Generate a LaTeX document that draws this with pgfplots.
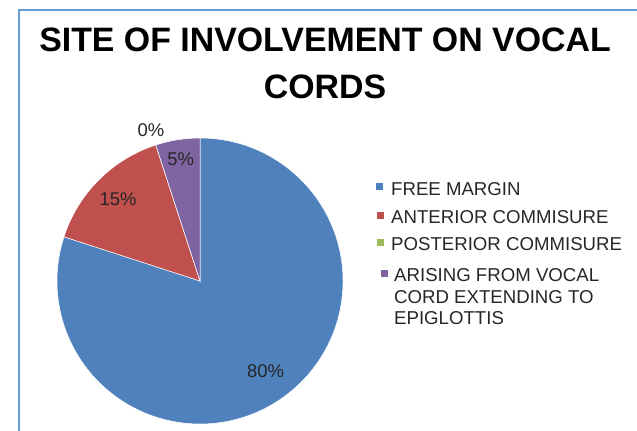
\documentclass[border=0pt]{standalone}
\usepackage{pgfplots}
\usepackage{pgfplotstable}
\pgfplotsset{compat=1.18}
\usepackage{fontspec}
\setmainfont{Liberation Sans}

\definecolor{pieblue}{RGB}{79,129,189}
\definecolor{piered}{RGB}{192,80,77}
\definecolor{piegreen}{RGB}{155,187,89}
\definecolor{piepurple}{RGB}{128,100,162}
\definecolor{frameblue}{RGB}{98,157,216}
\definecolor{legtext}{RGB}{38,38,38}

% slice share in percent, colour, radius of the label (fraction of R)
\pgfplotstableread{
name       value colour    labr
FreeMargin 80    pieblue   0.78
Anterior   15    piered    0.81
Posterior  0     piegreen  1.11
Arising    5     piepurple 0.86
}\piedata

\begin{document}
\begin{tikzpicture}[x=1bp,y=1bp]
\tikzset{pielabel/.style={font=\fontsize{18.5}{20}\selectfont, text=black!85, inner sep=0pt}}

% chart frame (cut by the page on the right and at the bottom)
\draw[frameblue, line width=2bp] (18.5,-5) -- (18.5,419.5) -- (660,419.5);

% title
\node[anchor=base, inner sep=0pt, font=\fontsize{34}{40}\selectfont\bfseries] at (325,379) {SITE OF INVOLVEMENT ON VOCAL};
\node[anchor=base, inner sep=0pt, font=\fontsize{34}{40}\selectfont\bfseries] at (325,332) {CORDS};

\begin{axis}[
    at={(200bp,149bp)}, anchor=center,
    x=143bp, y=143bp,
    xmin=-1, xmax=1, ymin=-1, ymax=1,
    hide axis, clip=false,
  ]
  \pgfplotstablegetrowsof{\piedata}
  \pgfmathtruncatemacro\lastrow{\pgfplotsretval-1}
  \def\angstart{90}
  \pgfplotsforeachungrouped \i in {0,...,\lastrow}{
    \pgfplotstablegetelem{\i}{value}\of\piedata \let\val\pgfplotsretval
    \pgfplotstablegetelem{\i}{colour}\of\piedata \let\col\pgfplotsretval
    \pgfplotstablegetelem{\i}{labr}\of\piedata \let\lr\pgfplotsretval
    \pgfmathsetmacro\angend{\angstart-3.6*\val}
    \pgfmathsetmacro\angmid{(\angstart+\angend)/2}
    \edef\temp{%
      \noexpand\fill[\col, draw=white, line width=0.5bp] (axis cs:0,0) --
        (axis cs:{cos(\angstart)},{sin(\angstart)})
        arc[start angle=\angstart, end angle=\angend, radius=143bp] -- cycle;
      \noexpand\node[pielabel] at (axis cs:{\lr*cos(\angmid)},{\lr*sin(\angmid)}) {\val\noexpand\%};
    }
    \temp
    \let\angstart\angend
  }
\end{axis}

% legend
\begin{scope}[every node/.style={anchor=base west, inner sep=0pt, text=legtext, font=\fontsize{18.7}{21}\selectfont}]
  \fill[pieblue]   (375.5,240.5) rectangle ++(7,7);
  \node at (391,235) {FREE MARGIN};
  \fill[piered]    (376.5,211.5) rectangle ++(7,7);
  \node at (391,207) {ANTERIOR COMMISURE};
  \fill[piegreen]  (376.5,184.5) rectangle ++(7,7);
  \node at (391,180) {POSTERIOR COMMISURE};
  \fill[piepurple] (380.5,153) rectangle ++(7,7);
  \node at (394,149) {ARISING FROM VOCAL};
  \node at (394,127) {CORD EXTENDING TO};
  \node at (394,106) {EPIGLOTTIS};
\end{scope}

\pgfresetboundingbox
\useasboundingbox (0,0) rectangle (637,430);
\end{tikzpicture}
\end{document}
